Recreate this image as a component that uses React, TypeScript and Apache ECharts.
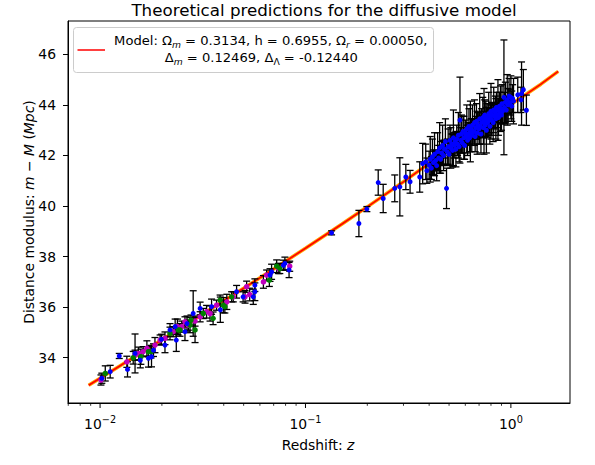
import React, { useEffect, useRef } from 'react';
import * as echarts from 'echarts';

const FONT = 'DejaVu Sans';
const X_MIN = 0.00698;
const X_MAX = 1.94;
const Y_MIN = 32.21;
const Y_MAX = 47.32;

const yTickValues = [34, 36, 38, 40, 42, 44, 46];
const xMajorTicks = [0.01, 0.1, 1];
const xTickExponents = ['\u22122', '\u22121', '0'];
const xMinorTicks = [0.007, 0.008, 0.009, 0.02, 0.03, 0.04, 0.05, 0.06, 0.07, 0.08, 0.09, 0.2, 0.3, 0.4, 0.5, 0.6, 0.7, 0.8, 0.9];

const modelZ = [0.0088, 0.01, 0.015, 0.02, 0.03, 0.05, 0.07, 0.1, 0.15, 0.2, 0.3, 0.4, 0.5, 0.6, 0.7, 0.8, 0.9, 1.0, 1.2, 1.4, 1.7];
const modelMu = [32.91, 33.19, 34.08, 34.71, 35.61, 36.75, 37.51, 38.33, 39.28, 39.97, 40.96, 41.69, 42.26, 42.73, 43.12, 43.46, 43.76, 44.02, 44.45, 44.82, 45.33];

// [z, mu, err]
const lowMagenta: number[][] = [
  [0.0101, 33.12, 0.2], [0.0135, 33.84, 0.22], [0.0148, 34.1, 0.2], [0.0154, 34.17, 0.25],
  [0.0162, 34.24, 0.2], [0.0169, 34.37, 0.3], [0.0185, 34.5, 0.3], [0.0196, 34.7, 0.2],
  [0.0207, 34.77, 0.25], [0.0227, 35.03, 0.2], [0.0238, 35.23, 0.3], [0.025, 35.23, 0.22],
  [0.0259, 35.42, 0.2], [0.0269, 35.29, 0.2], [0.029, 35.45, 0.2], [0.0307, 35.62, 0.2],
  [0.033, 35.82, 0.25], [0.0343, 35.75, 0.3], [0.0369, 36.08, 0.2], [0.0414, 36.21, 0.3],
  [0.0445, 36.41, 0.2], [0.0508, 36.41, 0.25], [0.0517, 36.81, 0.22], [0.0535, 36.5, 0.25],
  [0.0624, 37.0, 0.25], [0.0647, 37.27, 0.2], [0.0739, 37.53, 0.2], [0.0838, 37.62, 0.2],
];

const lowGreen: number[][] = [
  [0.0106, 33.38, 0.3], [0.0145, 34.0, 0.25], [0.0158, 34.04, 0.3], [0.0172, 34.24, 0.2],
  [0.0177, 34.24, 0.25], [0.0219, 34.96, 0.25], [0.024, 35.1, 0.2], [0.0245, 35.1, 0.25],
  [0.0274, 35.29, 0.3], [0.0277, 35.49, 0.2], [0.029, 35.1, 0.5], [0.0318, 35.75, 0.2],
  [0.0355, 35.56, 0.25], [0.0384, 36.28, 0.2], [0.0398, 36.08, 0.3], [0.0405, 36.02, 0.25],
  [0.0437, 36.41, 0.2], [0.0667, 37.07, 0.25], [0.0724, 37.62, 0.25], [0.075, 37.53, 0.2],
];

const lowBlue: number[][] = [
  [0.0102, 33.19, 0.2], [0.0112, 33.45, 0.25], [0.0124, 34.07, 0.1], [0.0136, 33.54, 0.3],
  [0.0148, 34.17, 0.77], [0.0157, 33.9, 0.3], [0.0172, 33.98, 0.35], [0.0178, 34.04, 0.4],
  [0.0182, 34.3, 0.25], [0.0199, 34.73, 0.2], [0.0207, 34.5, 0.3], [0.0219, 35.1, 0.25],
  [0.0232, 35.23, 0.3], [0.0235, 34.7, 0.45], [0.0259, 35.03, 0.35], [0.0265, 35.35, 0.3],
  [0.0284, 35.75, 0.9], [0.0307, 35.95, 0.25], [0.0349, 36.02, 0.3], [0.0385, 35.9, 0.5],
  [0.0462, 36.61, 0.25], [0.0497, 36.41, 0.2], [0.0557, 36.41, 0.3], [0.0567, 36.61, 0.35],
  [0.0567, 36.87, 0.25], [0.0672, 37.27, 0.25], [0.0684, 37.4, 0.3], [0.0781, 37.66, 0.2],
  [0.0794, 37.73, 0.25], [0.0832, 37.47, 0.3],
];

const highBlue: number[][] = [
  [0.134, 38.94, 0.08], [0.182, 39.31, 0.52], [0.199, 39.88, 0.1], [0.226, 40.93, 0.5],
  [0.239, 40.3, 0.56], [0.272, 40.7, 0.53], [0.288, 40.76, 1.15], [0.308, 41.15, 0.5],
  [0.323, 40.96, 0.45], [0.36, 41.15, 0.6], [0.372, 41.68, 0.8], [0.385, 41.75, 0.7],
  [0.39, 41.4, 0.5], [0.486, 40.7, 0.8],
  [0.4, 41.62, 0.55], [0.405, 41.85, 0.9], [0.41, 41.5, 0.45], [0.415, 41.95, 0.7],
  [0.42, 41.72, 0.5], [0.425, 42.05, 0.85], [0.43, 41.8, 0.4], [0.435, 41.6, 0.6],
  [0.44, 42.15, 0.75], [0.445, 41.9, 0.5], [0.45, 42.3, 1.0], [0.455, 41.85, 0.55],
  [0.46, 42.1, 0.45], [0.465, 42.4, 0.8], [0.47, 42.0, 0.6], [0.475, 42.25, 0.35],
  [0.48, 42.55, 0.9], [0.49, 42.15, 0.5], [0.495, 42.35, 0.7], [0.5, 42.05, 0.45],
  [0.505, 42.6, 0.6], [0.51, 42.3, 0.8], [0.515, 42.45, 0.4], [0.52, 42.2, 0.65],
  [0.525, 42.7, 1.1], [0.53, 42.4, 0.5], [0.535, 42.55, 0.35], [0.54, 42.25, 0.7],
  [0.545, 42.65, 0.55], [0.55, 42.45, 0.45], [0.555, 42.8, 0.9], [0.56, 42.35, 0.6],
  [0.565, 43.4, 1.7], [0.57, 42.6, 0.5], [0.575, 42.85, 0.75], [0.58, 42.5, 0.4],
  [0.585, 42.95, 0.6], [0.59, 42.7, 0.85], [0.595, 42.4, 0.55], [0.6, 42.9, 0.5],
  [0.605, 42.75, 0.35], [0.61, 43.05, 0.95], [0.615, 42.6, 0.6], [0.62, 42.85, 0.45],
  [0.625, 43.15, 0.7], [0.63, 42.7, 0.55], [0.635, 42.95, 1.2], [0.64, 43.05, 0.4],
  [0.645, 42.8, 0.65], [0.65, 43.2, 0.8], [0.66, 42.95, 0.5], [0.665, 43.3, 0.9],
  [0.67, 42.75, 0.6], [0.675, 43.1, 0.45], [0.68, 43.35, 0.7], [0.685, 42.9, 0.85],
  [0.69, 43.2, 0.5], [0.7, 43.05, 0.6], [0.705, 43.45, 1.0], [0.71, 43.15, 0.4],
  [0.715, 42.85, 0.75], [0.72, 43.3, 0.55], [0.73, 43.5, 0.8], [0.735, 43.1, 0.65],
  [0.74, 43.35, 1.3], [0.745, 43.6, 0.6], [0.75, 43.2, 0.45], [0.755, 43.45, 0.7],
  [0.76, 43.0, 0.9], [0.765, 43.55, 0.5], [0.77, 43.3, 0.6], [0.78, 43.65, 0.85],
  [0.785, 43.4, 0.5], [0.79, 43.15, 0.7], [0.795, 43.55, 0.45], [0.8, 43.75, 1.1],
  [0.805, 43.4, 0.6], [0.81, 43.6, 0.5], [0.82, 43.3, 0.75], [0.825, 43.8, 0.9],
  [0.83, 43.55, 0.45], [0.84, 43.7, 0.65], [0.845, 43.45, 0.8], [0.85, 43.9, 0.6],
  [0.86, 43.6, 0.5], [0.865, 43.8, 1.2], [0.87, 43.5, 0.7], [0.88, 43.95, 0.55],
  [0.885, 43.7, 0.45], [0.89, 43.85, 0.9], [0.9, 43.6, 0.6], [0.905, 44.05, 0.75],
  [0.91, 43.75, 0.5], [0.925, 44.3, 2.27], [0.93, 43.9, 0.6], [0.94, 44.1, 0.8],
  [0.95, 43.8, 0.55], [0.96, 44.2, 1.0], [0.97, 44.0, 0.65], [0.98, 44.35, 0.7],
  [0.99, 44.1, 0.5], [1.0, 44.3, 0.85], [1.01, 43.95, 0.6], [1.02, 44.25, 0.55],
  [1.03, 44.15, 0.9], [1.08, 44.4, 0.7], [1.12, 44.2, 0.5], [1.127, 44.45, 1.25],
  [1.15, 44.6, 0.8], [1.19, 43.79, 0.6],
];

const titleText = 'Theoretical predictions for the diffusive model';
const legendLine1 = 'Model: \u03a9{si|m} = 0.3134, h = 0.6955, \u03a9{si|r} = 0.00050,';
const legendLine2 = '\u0394{si|m} = 0.12469, \u0394{s|\u039b} = -0.12440';
const xAxisName = 'Redshift: {i|z}';
const yAxisName = 'Distance modulus: {i|m} \u2212 {i|M} ({i|Mpc})';

function errorBarSeries(data: number[][]) {
  return {
    type: 'custom',
    clip: false,
    z: 3,
    data,
    encode: { x: 0, y: 1 },
    renderItem: (params: any, api: any) => {
      const z = api.value(0);
      const mu = api.value(1);
      const e = api.value(2);
      const top = api.coord([z, mu + e]);
      const bot = api.coord([z, mu - e]);
      const st = { stroke: '#000', lineWidth: 1.3 };
      return {
        type: 'group',
        children: [
          { type: 'line', shape: { x1: top[0], y1: top[1], x2: bot[0], y2: bot[1] }, style: st },
          { type: 'line', shape: { x1: top[0] - 3.5, y1: top[1], x2: top[0] + 3.5, y2: top[1] }, style: st },
          { type: 'line', shape: { x1: bot[0] - 3.5, y1: bot[1], x2: bot[0] + 3.5, y2: bot[1] }, style: st },
        ],
      };
    },
  };
}

function dotSeries(data: number[][], color: string, size: number) {
  return {
    type: 'scatter',
    z: 4,
    symbol: 'circle',
    symbolSize: size,
    itemStyle: { color, opacity: 1 },
    data: data.map((d) => [d[0], d[1]]),
  };
}

function tickSeries(values: number[], len: number, width: number) {
  return {
    type: 'custom',
    clip: false,
    z: 5,
    data: values.map((v) => [v, Y_MIN]),
    encode: { x: 0, y: 1 },
    renderItem: (params: any, api: any) => {
      const p = api.coord([api.value(0), api.value(1)]);
      return {
        type: 'line',
        shape: { x1: p[0], y1: p[1], x2: p[0], y2: p[1] + len },
        style: { stroke: '#000', lineWidth: width },
      };
    },
  };
}

export default function App() {
  const ref = useRef<HTMLDivElement>(null);
  useEffect(() => {
    if (!ref.current) return;
    const chart = echarts.init(ref.current, null, { renderer: 'svg' });
    const txt = { fontFamily: FONT, fontSize: 13.9, color: '#000' };
    const LF = 13.1;
    const LS = 9.2;
    const option: any = {
      animation: false,
      backgroundColor: '#fff',
      grid: {
        left: 68, right: 25, top: 21, bottom: 62,
        show: true, borderColor: '#000', borderWidth: 1, backgroundColor: 'transparent',
        outerBoundsMode: 'none',
      },
      xAxis: {
        type: 'log',
        logBase: 10,
        min: X_MIN,
        max: X_MAX,
        axisLine: { show: true, lineStyle: { color: '#000', width: 1 } },
        axisTick: { show: false },
        splitLine: { show: false },
        minorTick: { show: false },
        axisLabel: {
          showMinLabel: false,
          showMaxLabel: false,
          margin: 11,
          ...txt,
          formatter: (val: number) => {
            let best = 0;
            for (let i = 0; i < xMajorTicks.length; i++) {
              if (Math.abs(Math.log10(val) - Math.log10(xMajorTicks[i])) < Math.abs(Math.log10(val) - Math.log10(xMajorTicks[best]))) best = i;
            }
            return '{b|10}{s|' + xTickExponents[best] + '}';
          },
          rich: {
            b: { fontFamily: FONT, fontSize: 13.9, color: '#000' },
            s: { fontFamily: FONT, fontSize: 9.7, color: '#000', padding: [0, 0, 9, 0] },
          },
        },
      },
      yAxis: {
        type: 'value',
        min: Y_MIN,
        max: Y_MAX,
        axisLine: { show: true, lineStyle: { color: '#000', width: 1 } },
        axisTick: { show: true, customValues: yTickValues, length: 5, lineStyle: { color: '#000', width: 1 } },
        axisLabel: { customValues: yTickValues, margin: 12, ...txt },
        splitLine: { show: false },
      },
      series: [
        {
          type: 'line', z: 1, showSymbol: false, silent: true,
          data: modelZ.map((z, i) => [z, modelMu[i]]),
          lineStyle: { color: '#ffa500', width: 3.5 },
        },
        {
          type: 'line', z: 2, showSymbol: false, silent: true,
          data: modelZ.map((z, i) => [z, modelMu[i]]),
          lineStyle: { color: '#ff0000', width: 1.6 },
        },
        errorBarSeries(lowMagenta),
        errorBarSeries(lowGreen),
        errorBarSeries(lowBlue),
        errorBarSeries(highBlue),
        dotSeries(lowMagenta, '#bf00bf', 5.5),
        dotSeries(lowGreen, '#008000', 5.5),
        dotSeries(lowBlue, '#0000ff', 5),
        dotSeries(highBlue, '#0000ff', 5),
        tickSeries(xMajorTicks, 5, 1),
        tickSeries(xMinorTicks, 2.8, 0.8),
      ],
      graphic: [
        {
          type: 'text', x: 324, y: 9.6, z: 10,
          style: { text: titleText, fontFamily: FONT, fontSize: 16.7, fill: '#000', align: 'center', verticalAlign: 'middle' },
        },
        {
          type: 'text', x: 318, y: 445, z: 10,
          style: {
            text: xAxisName, fontFamily: FONT, fontSize: 13.9, fill: '#000', align: 'center', verticalAlign: 'middle',
            rich: { i: { fontFamily: FONT, fontSize: 13.9, fontStyle: 'italic', fill: '#000' } },
          },
        },
        {
          type: 'text', x: 29, y: 212, rotation: Math.PI / 2, z: 10,
          style: {
            text: yAxisName, fontFamily: FONT, fontSize: 13.9, fill: '#000', align: 'center', verticalAlign: 'middle',
            rich: { i: { fontFamily: FONT, fontSize: 13.9, fontStyle: 'italic', fill: '#000' } },
          },
        },
        {
          type: 'rect', z: 10,
          shape: { x: 73.5, y: 27.5, width: 360, height: 45, r: 3 },
          style: { fill: 'rgba(255,255,255,0.8)', stroke: '#cccccc', lineWidth: 1 },
        },
        {
          type: 'line', z: 11,
          shape: { x1: 77.5, y1: 50, x2: 105, y2: 50 },
          style: { stroke: '#ff0000', lineWidth: 1.5 },
        },
        {
          type: 'text', x: 270.8, y: 40.7, z: 11,
          style: {
            text: legendLine1, fontFamily: FONT, fontSize: LF, fill: '#000', align: 'center', verticalAlign: 'middle',
            rich: {
              si: { fontFamily: FONT, fontSize: LS, fontStyle: 'italic', fill: '#000', padding: [8, 0, 0, 0] },
            },
          },
        },
        {
          type: 'text', x: 261.3, y: 57.3, z: 11,
          style: {
            text: legendLine2, fontFamily: FONT, fontSize: LF, fill: '#000', align: 'center', verticalAlign: 'middle',
            rich: {
              si: { fontFamily: FONT, fontSize: LS, fontStyle: 'italic', fill: '#000', padding: [8, 0, 0, 0] },
              s: { fontFamily: FONT, fontSize: LS, fill: '#000', padding: [8, 0, 0, 0] },
            },
          },
        },
      ],
    };
    chart.setOption(option);
    return () => chart.dispose();
  }, []);
  return <div ref={ref} style={{ position: 'fixed', left: 0, top: 0, width: 595, height: 465 }} />;
}
